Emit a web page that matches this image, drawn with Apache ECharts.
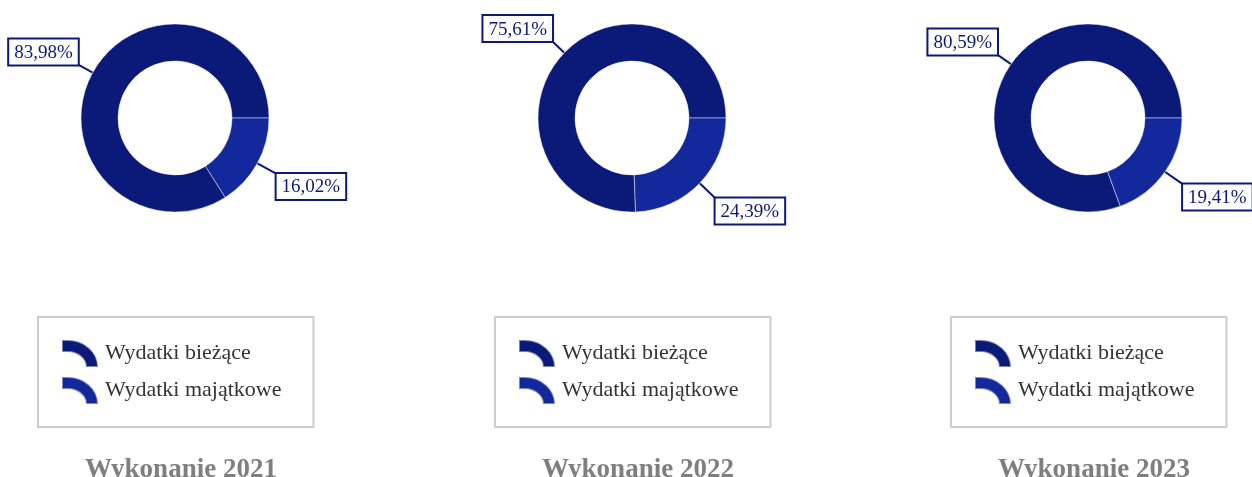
<!DOCTYPE html>
<html>
<head>
<meta charset="utf-8">
<script src="https://cdn.jsdelivr.net/npm/echarts@6/dist/echarts.min.js"></script>
<style>
html,body{margin:0;padding:0;background:#fff;}
#main{width:1252px;height:477px;}
</style>
</head>
<body>
<div id="main"></div>
<script>
const categories = ['Wydatki bieżące', 'Wydatki majątkowe'];
const years = ['Wykonanie 2021', 'Wykonanie 2022', 'Wykonanie 2023'];
const values2021 = [83.98, 16.02];
const values2022 = [75.61, 24.39];
const values2023 = [80.59, 19.41];
const allValues = [values2021, values2022, values2023];

const colors = ['#0b1a78', '#13289a'];
const lineLengths = [17, 22];
const centersX = [175, 632, 1088];
const font = '"Liberation Serif", "Times New Roman", serif';
const iconPath = 'path://M0,0 L6,0 A30,27 0 0 1 36,27 L24,27 A18,15 0 0 0 6,12 L0,12 Z';

const chart = echarts.init(document.getElementById('main'));
const series = [], legends = [], titles = [];
allValues.forEach((vals, i) => {
  series.push({
    type: 'pie',
    name: years[i],
    center: [centersX[i], 118],
    radius: [57, 94],
    startAngle: 0,
    clockwise: false,
    avoidLabelOverlap: false,
    silent: true,
    itemStyle: { borderColor: 'rgba(255,255,255,0.45)', borderWidth: 1 },
    label: {
      show: true,
      formatter: p => p.value.toFixed(2).replace('.', ',') + '%',
      fontFamily: font,
      fontSize: 19,
      lineHeight: 21,
      color: '#0b1a78',
      backgroundColor: '#fff',
      borderColor: '#0b1a78',
      borderWidth: 2,
      padding: [3, 5, 1, 5]
    },
    labelLine: { show: true, length: 19, length2: 0, lineStyle: { color: '#0b1a78', width: 2 } },
    labelLayout: function (params) {
      const pts = params.labelLinePoints;
      if (!pts || !pts.length) return {};
      const end = pts[pts.length - 1];
      const leftSide = end[0] < pts[0][0];
      return {
        x: end[0],
        y: end[1],
        align: leftSide ? 'right' : 'left',
        verticalAlign: end[1] < pts[0][1] ? 'bottom' : 'top',
        labelLinePoints: pts
      };
    },
    data: categories.map((c, k) => ({
      name: c,
      value: vals[k],
      itemStyle: { color: colors[k] },
      labelLine: { length: lineLengths[k] }
    }))
  });
  legends.push({
    data: categories,
    orient: 'vertical',
    left: centersX[i] - 137,
    top: 317,
    itemWidth: 36,
    itemHeight: 27,
    itemGap: 8,
    icon: iconPath,
    borderColor: '#cccccc',
    borderWidth: 2,
    padding: [22, 32, 22, 23],
    selectedMode: false,
    textStyle: { fontFamily: font, fontSize: 22, color: '#333', padding: [0, 0, 0, 2] }
  });
  titles.push({
    text: years[i],
    left: centersX[i] + 1,
    textAlign: 'center',
    top: 452,
    textStyle: { fontFamily: font, fontSize: 27, fontWeight: 'bold', color: '#7f7f7f' }
  });
});

chart.setOption({
  animation: false,
  color: colors,
  title: titles,
  legend: legends,
  series: series
});
</script>
</body>
</html>
